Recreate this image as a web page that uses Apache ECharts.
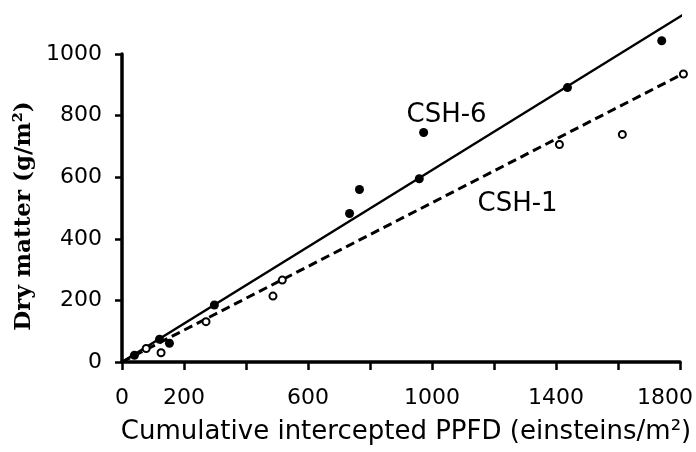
<!DOCTYPE html>
<html>
<head>
<meta charset="utf-8">
<script src="https://cdn.jsdelivr.net/npm/echarts@6/dist/echarts.min.js"></script>
<style>html,body{margin:0;padding:0;background:#fff;}#c{width:696px;height:452px;}</style>
</head>
<body>
<div id="c"></div>
<script>
// x tick labels shown on the axis
var xTickLabels = ['0', '200', '600', '1000', '1400', '1800'];
var yTickLabels = ['0', '200', '400', '600', '800', '1000'];
// CSH-6 observations (filled circles): [PPFD, dry matter]
var csh6X = [40, 121, 153, 298, 734, 766, 959, 973, 1437, 1741];
var csh6Y = [22, 74, 61, 185, 482, 560, 595, 745, 891, 1043];
// CSH-1 observations (open circles)
var csh1X = [78, 126, 271, 487, 517, 1411, 1614, 1811];
var csh1Y = [44, 30, 131, 214, 266, 706, 739, 935];
// fitted lines (end points)
var fit6X = [0, 1830];
var fit6Y = [0, 1140];
var fit1X = [0, 1820];
var fit1Y = [0, 941];
// annotation anchors
var labelNames = ['CSH-6', 'CSH-1'];
var labelX = [1047, 1276];
var labelY = [802, 512];

function zip(a, b) { return a.map(function (v, i) { return [v, b[i]]; }); }

var SANS = '"DejaVu Sans", sans-serif';
var chart = echarts.init(document.getElementById('c'), null, {renderer: 'canvas'});
chart.setOption({
  backgroundColor: '#ffffff',
  animation: false,
  grid: {left: 122, right: 14, top: 54, bottom: 90, containLabel: false},
  xAxis: {
    type: 'value', min: 0, max: 1800, interval: 200,
    axisLine: {show: true, onZero: false, lineStyle: {color: '#000', width: 3.5}},
    axisTick: {show: true, inside: false, length: 8, lineStyle: {color: '#000', width: 2.5}},
    splitLine: {show: false},
    axisLabel: {
      color: '#000', fontSize: 22, fontFamily: SANS, margin: 25,
      showMaxLabel: true, showMinLabel: true,
      formatter: function (v) {
        var s = String(v);
        if (xTickLabels.indexOf(s) < 0) return '';
        if (s === '1800') return '{r|' + s + '}';
        return s;
      },
      rich: {r: {fontSize: 22, fontFamily: SANS, color: '#000', padding: [0, 30, 0, 0]}}
    }
  },
  yAxis: {
    type: 'value', min: 0, max: 1000, interval: 200,
    axisLine: {show: true, onZero: false, lineStyle: {color: '#000', width: 3.5}},
    axisTick: {show: true, inside: false, length: 7, lineStyle: {color: '#000', width: 2.5}},
    splitLine: {show: false},
    axisLabel: {
      color: '#000', fontSize: 22, fontFamily: SANS, margin: 20,
      formatter: function (v) { var s = String(v); return yTickLabels.indexOf(s) >= 0 ? s : ''; }
    }
  },
  graphic: [
    {type: 'text', x: 406, y: 432, style: {text: 'Cumulative intercepted PPFD (einsteins/m²)', font: '26px "DejaVu Sans"', fill: '#000', textAlign: 'center', textVerticalAlign: 'middle'}},
    {type: 'text', x: 24, y: 216, rotation: Math.PI / 2, style: {text: 'Dry matter (g/m²)', font: 'bold 23px "DejaVu Serif"', fill: '#000', textAlign: 'center', textVerticalAlign: 'middle'}}
  ],
  series: [
    {
      name: 'CSH-6 fit', type: 'line', data: zip(fit6X, fit6Y), showSymbol: false, symbol: 'none', clip: false,
      lineStyle: {color: '#000', width: 2.5, type: 'solid', opacity: 1}, z: 2,
      markPoint: {
        symbol: 'rect', symbolSize: 1, itemStyle: {color: 'rgba(0,0,0,0)'},
        label: {show: true, position: 'inside', color: '#000', fontSize: 26, fontFamily: SANS, formatter: '{b}'},
        data: [{name: labelNames[0], coord: [labelX[0], labelY[0]]}]
      }
    },
    {
      name: 'CSH-1 fit', type: 'line', data: zip(fit1X, fit1Y), showSymbol: false, symbol: 'none', clip: false,
      lineStyle: {color: '#000', width: 3, type: [9, 5], opacity: 1}, z: 2,
      markPoint: {
        symbol: 'rect', symbolSize: 1, itemStyle: {color: 'rgba(0,0,0,0)'},
        label: {show: true, position: 'inside', color: '#000', fontSize: 26, fontFamily: SANS, formatter: '{b}'},
        data: [{name: labelNames[1], coord: [labelX[1], labelY[1]]}]
      }
    },
    {
      name: 'CSH-6', type: 'scatter', data: zip(csh6X, csh6Y), symbol: 'circle', symbolSize: 9, clip: false,
      itemStyle: {color: '#000', opacity: 1}, z: 3
    },
    {
      name: 'CSH-1', type: 'scatter', data: zip(csh1X, csh1Y), symbol: 'circle', symbolSize: 7, clip: false,
      itemStyle: {color: '#fff', borderColor: '#000', borderWidth: 2, opacity: 1}, z: 3
    }
  ]
});
</script>
</body>
</html>
